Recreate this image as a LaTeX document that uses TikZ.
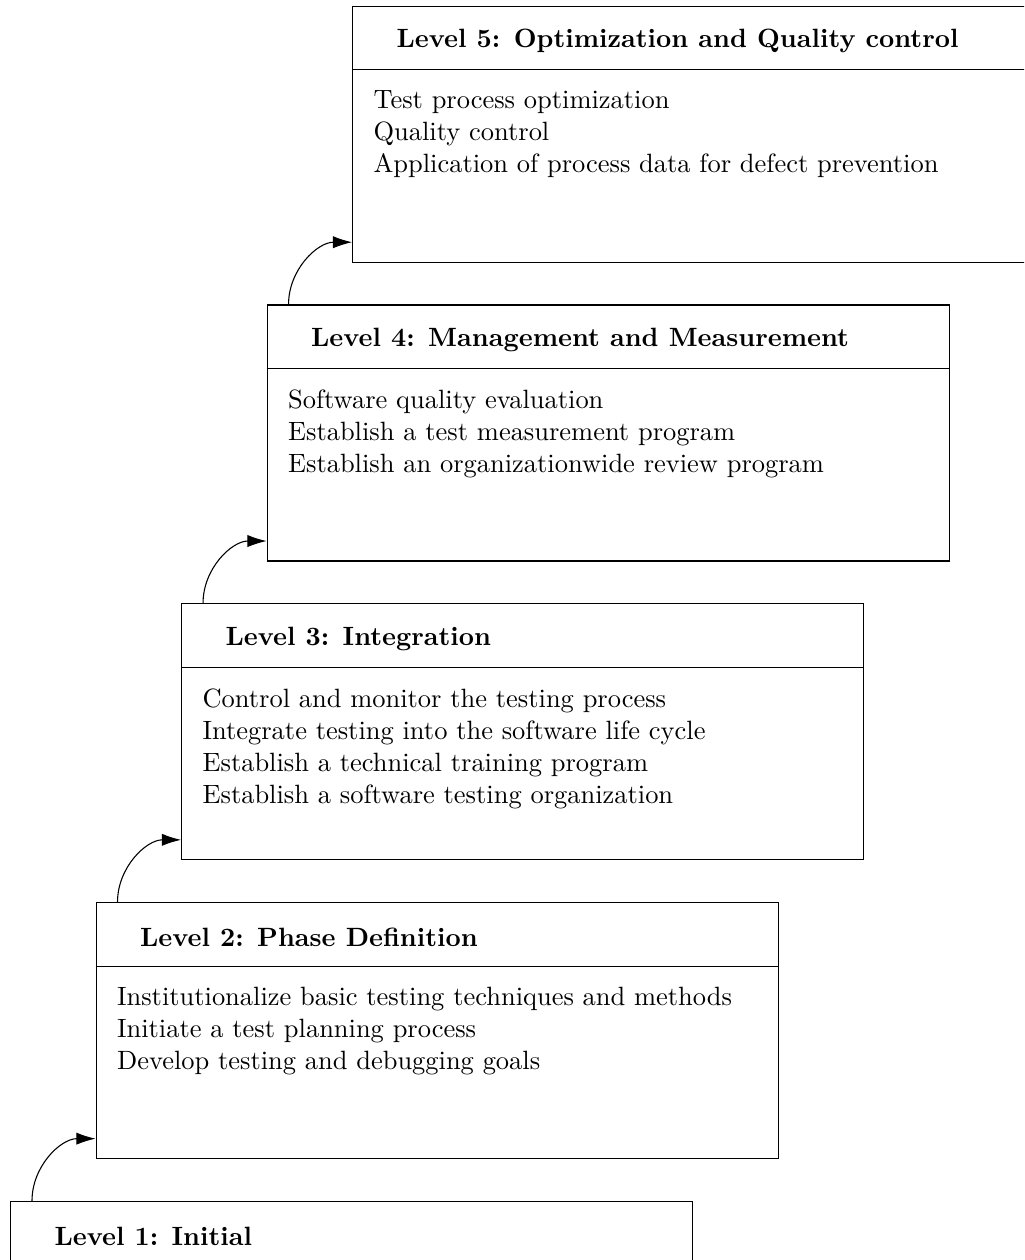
\documentclass[tikz,border=0pt]{standalone}
\usetikzlibrary{positioning}
\usetikzlibrary{calc}
\usetikzlibrary{arrows.meta}

\tikzset{
    levelbox/.style={draw, anchor=north west, inner sep=0,
        minimum width=8.846cm, minimum height=3.32cm},
    levelhead/.style={font=\fontsize{9.76pt}{11.8pt}\selectfont\bfseries,
        anchor=west, inner sep=0},
    levelbody/.style={font=\fontsize{9.76pt}{11.8pt}\selectfont,
        align=left, anchor=north west, inner sep=0},
    levelarrow/.style={-{Latex[length=2.5mm, width=1.6mm]}},
}

\begin{document}
\begin{tikzpicture}
    \newcommand\headh{.83}
\newcommand\stepx{1.109}
\newcommand\stepy{3.875}

\useasboundingbox (0, 0) rectangle (13.28, -16.34);
\clip (0, 0) rectangle (13.28, -16.34);

\node[levelbox] (lvl1) at (.13, -15.573) {};
\node[levelbox] (lvl2) at ($(lvl1.north west) + (\stepx, \stepy)$) {};
\node[levelbox] (lvl3) at ($(lvl2.north west) + (\stepx, \stepy)$) {};
\node[levelbox] (lvl4) at ($(lvl3.north west) + (\stepx, \stepy)$) {};
\node[levelbox] (lvl5) at ($(lvl4.north west) + (\stepx, \stepy)$) {};

% header rule of every box
\foreach \n in {1, ..., 5}
    \draw ($(lvl\n.north west) + (0, -\headh)$) --
        ($(lvl\n.north east) + (0, -\headh)$);

\node[levelhead] (head1) at ($(lvl1.north west) + (.571, -.5 * \headh - .045)$)
    {Level 1: Initial};
\node[levelhead] (head2) at ($(lvl2.north west) + (.571, -.5 * \headh - .045)$)
    {Level 2: Phase Definition};
\node[levelhead] (head3) at ($(lvl3.north west) + (.571, -.5 * \headh - .045)$)
    {Level 3: Integration};
\node[levelhead] (head4) at ($(lvl4.north west) + (.571, -.5 * \headh - .045)$)
    {Level 4: Management and Measurement};
\node[levelhead] (head5) at ($(lvl5.north west) + (.571, -.5 * \headh - .045)$)
    {Level 5: Optimization and Quality control};

\node[levelbody] (body2) at ($(lvl2.north west) + (.272, -\headh - .27)$)
    {Institutionalize basic testing techniques and methods\\
     Initiate a test planning process\\
     Develop testing and debugging goals};
\node[levelbody] (body3) at ($(lvl3.north west) + (.272, -\headh - .27)$)
    {Control and monitor the testing process\\
     Integrate testing into the software life cycle\\
     Establish a technical training program\\
     Establish a software testing organization};
\node[levelbody] (body4) at ($(lvl4.north west) + (.272, -\headh - .27)$)
    {Software quality evaluation\\
     Establish a test measurement program\\
     Establish an organizationwide review program};
\node[levelbody] (body5) at ($(lvl5.north west) + (.272, -\headh - .27)$)
    {Test process optimization\\
     Quality control\\
     Application of process data for defect prevention};

% climb from one level to the next
\foreach \n [evaluate=\n as \m using int(\n + 1)] in {1, ..., 4}
    \draw[levelarrow] ($(lvl\n.north west) + (.285, 0)$)
        to[out=90, in=180] ($(lvl\m.south west) + (0, .266)$);
\end{tikzpicture}
\end{document}
